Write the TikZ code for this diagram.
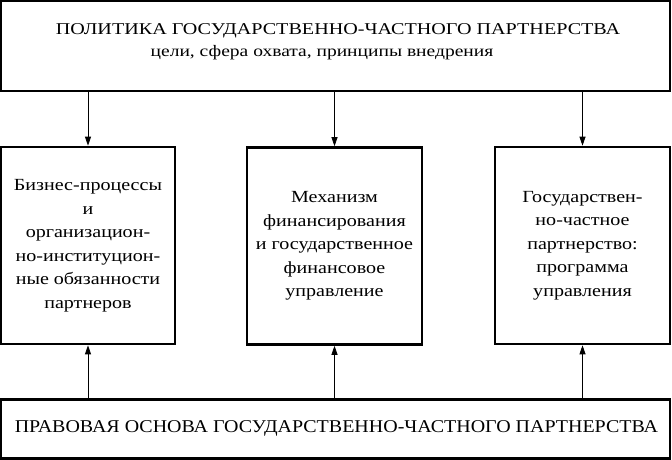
\documentclass[tikz,border=0pt]{standalone}
\usepackage{fontspec}
\setmainfont{Liberation Serif}
\newfontfamily\wa[FakeStretch=1.22]{Liberation Serif}
\newfontfamily\wb[FakeStretch=1.18]{Liberation Serif}
\newfontfamily\wc[FakeStretch=1.11]{Liberation Serif}
\usetikzlibrary{arrows.meta}
\begin{document}
\begin{tikzpicture}[x=1pt,y=1pt,
  box/.style={draw,line width=2.6pt,rectangle,inner sep=0pt},
  mid/.style={box,minimum width=174pt,minimum height=197pt,align=center,font=\wb\fontsize{17}{23.5}\selectfont},
  arr/.style={-{Triangle[length=9pt,width=6pt]},line width=0.8pt}]
\useasboundingbox (0,0) rectangle (672,-460);
\node[box,minimum width=669pt,minimum height=90pt] (top) at (335.5,-46) {};
\node[font=\wa\fontsize{16.5}{20}\selectfont] (t1) at (338,-31) {ПОЛИТИКА ГОСУДАРСТВЕННО-ЧАСТНОГО ПАРТНЕРСТВА};
\node[font=\wa\fontsize{16}{20}\selectfont] (t2) at (322,-53) {цели, сфера охвата, принципы внедрения};
\node[mid] (l) at (88,-245.5) {Бизнес-процессы\\и\\организацион-\\но-институцион-\\ные обязанности\\партнеров};
\node[mid,minimum width=175pt] (m) at (334.5,-246) {Механизм\\финансирования\\и государственное\\финансовое\\управление};
\node[mid,minimum width=175pt] (r) at (582.5,-245.5) {Государствен-\\но-частное\\партнерство:\\программа\\управления};
\node[box,minimum width=669pt,minimum height=59pt] (bot) at (335.5,-429) {};
\node[font=\wc\fontsize{18}{20}\selectfont] (b1) at (336.5,-428) {ПРАВОВАЯ ОСНОВА ГОСУДАРСТВЕННО-ЧАСТНОГО ПАРТНЕРСТВА};
\draw[arr] (top.south -| l.north) -- (l.north);
\draw[arr] (top.south -| m.north) -- (m.north);
\draw[arr] (top.south -| r.north) -- (r.north);
\draw[arr] (bot.north -| l.south) -- (l.south);
\draw[arr] (bot.north -| m.south) -- (m.south);
\draw[arr] (bot.north -| r.south) -- (r.south);
\end{tikzpicture}
\end{document}
